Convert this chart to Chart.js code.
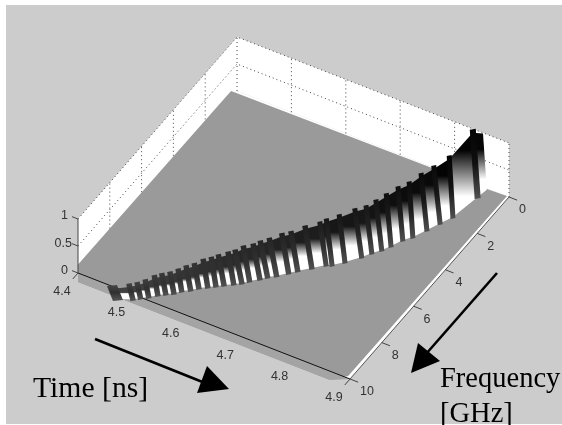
<!DOCTYPE html>
<html>
<head>
<meta charset="utf-8">
<script src="https://cdn.jsdelivr.net/npm/chart.js@4/dist/chart.umd.min.js"></script>
<style>
  body { margin: 0; background: #fff; }
  canvas { display: block; filter: blur(0.35px); }
</style>
</head>
<body>
<canvas id="myChart" width="562" height="425"></canvas>
<script>
// axis ticks
const timeTicks = [4.4, 4.5, 4.6, 4.7, 4.8, 4.9];
const freqTicks = [0, 2, 4, 6, 8, 10];
const ampTicks = [0, 0.5, 1];

// ridge: one entry per frequency step
const ridgeFreq = [10.43, 10.19, 10.02, 9.85, 9.62, 9.46, 9.29, 9.08, 8.89, 8.68, 8.5, 8.33, 8.16, 7.96, 7.79, 7.58, 7.34, 7.13, 6.94, 6.63, 6.4, 6.06, 5.71, 5.61, 5.28, 4.81, 4.48, 4.2, 3.89, 3.46, 3.17, 2.66, 2.17, 1.71, 0.5, 0.06];
const footTime = [4.486, 4.507, 4.516, 4.526, 4.536, 4.546, 4.556, 4.564, 4.575, 4.584, 4.595, 4.605, 4.615, 4.627, 4.637, 4.645, 4.657, 4.665, 4.676, 4.689, 4.699, 4.715, 4.731, 4.739, 4.753, 4.77, 4.779, 4.789, 4.797, 4.806, 4.816, 4.827, 4.837, 4.847, 4.857, 4.861];
const peakTime = [4.475, 4.499, 4.509, 4.519, 4.529, 4.538, 4.548, 4.557, 4.566, 4.575, 4.586, 4.596, 4.604, 4.616, 4.624, 4.633, 4.644, 4.651, 4.662, 4.676, 4.686, 4.702, 4.719, 4.728, 4.742, 4.757, 4.768, 4.778, 4.788, 4.797, 4.809, 4.816, 4.825, 4.84, 4.848, 4.854];
const peakAmp = [0.2, 0.25, 0.26, 0.29, 0.33, 0.35, 0.36, 0.38, 0.41, 0.42, 0.48, 0.5, 0.52, 0.55, 0.56, 0.6, 0.6, 0.61, 0.64, 0.68, 0.68, 0.73, 0.75, 0.81, 0.83, 0.84, 0.83, 0.88, 0.93, 0.95, 0.99, 1.0, 1.01, 1.1, 1.21, 1.07];

// flat part of the surface and the strip of it below the time axis
const surfaceTime = [4.392, 4.39, 4.411, 4.874, 4.894, 4.896, 4.86];
const surfaceFreq = [0.1, 9.67, 10.37, 10.36, 9.91, -0.01, 0.02];
const stripTime = [4.4, 4.411, 4.874, 4.9];
const stripFreq = [10, 10.37, 10.36, 10];

// 3d view: time/frequency/amplitude to picture position
function project(t, f, z) {
  return {
    x: 78 + 544 * (t - 4.4) + 15.9 * (10 - f),
    y: 273 + 212 * (t - 4.4) - 18.2 * (10 - f) - 54 * z,
  };
}

function polygon(points, color) {
  return {
    data: points.concat([points[0]]),
    fill: "shape",
    backgroundColor: color,
    borderWidth: 0,
    borderColor: "transparent",
    pointRadius: 0,
    tension: 0,
  };
}

function polyline(points, color, width, dash) {
  return {
    data: points,
    fill: false,
    borderColor: color,
    borderWidth: width,
    borderDash: dash || [],
    pointRadius: 0,
    tension: 0,
  };
}

function gray(level) {
  const v = Math.round(level);
  return "rgb(" + v + "," + v + "," + v + ")";
}

function topShade(amp) {
  return Math.max(4, 68 - ((amp - 0.2) / 1.01) * 72);
}

// vertical gradient for the sides of the ridge
function shade(top, foot, stops) {
  return (c) => {
    if (!c.chart.chartArea) return "#888";
    const sy = c.chart.scales.y;
    const g = c.chart.ctx.createLinearGradient(0, sy.getPixelForValue(top), 0, sy.getPixelForValue(foot));
    stops.forEach((s) => g.addColorStop(s[0], s[1]));
    return g;
  };
}

function facetStops(amp, top, foot) {
  const h = foot - top;
  const band = Math.min(0.45, (7 + 9 * amp) / h);
  const white = Math.max(band + 0.1, 0.5 + (0.25 * amp) / 1.19);
  const dark = gray(topShade(amp));
  return [[0, dark], [band, dark], [white, "#fff"], [1, "#fff"]];
}

function stripeWidth(i) {
  if (i === 0) return 10;
  if (i === ridgeFreq.length - 2) return 6;
  return i < 22 ? 5.4 : 5;
}

function ridgeDatasets() {
  const out = [];
  const foot = ridgeFreq.map((f, i) => project(footTime[i], f, 0));
  const peak = ridgeFreq.map((f, i) => project(peakTime[i], f, peakAmp[i]));
  for (let i = 0; i < ridgeFreq.length - 1; i++) {
    const top = Math.min(peak[i].y, peak[i + 1].y) + 3;
    const bottom = Math.max(foot[i].y, foot[i + 1].y);
    out.push(polygon([
      foot[i],
      foot[i + 1],
      { x: peak[i + 1].x, y: peak[i + 1].y + 3 },
      { x: peak[i].x, y: peak[i].y + 3 },
    ], shade(top, bottom, facetStops(peakAmp[i + 1], top, bottom))));
  }
  for (let i = 0; i < ridgeFreq.length - 1; i++) {
    const w = stripeWidth(i) / 2;
    const dark = gray(topShade(peakAmp[i]));
    const mid = gray(Math.min(topShade(peakAmp[i]) + 12, 48));
    out.push(polygon([
      { x: foot[i].x - w, y: foot[i].y + 2 },
      { x: foot[i].x + w, y: foot[i].y + 1 },
      { x: peak[i].x + w, y: peak[i].y - 1 },
      { x: peak[i].x - w, y: peak[i].y },
    ], shade(peak[i].y, foot[i].y, [[0, dark], [0.5, mid], [1, "#4e4e4e"]])));
  }
  return out;
}

function wallDatasets() {
  const out = [];
  out.push(polygon([project(4.4, 10, 0), project(4.4, 10, 1), project(4.4, 0, 1), project(4.4, 0, 0)], "#fff"));
  out.push(polygon([project(4.4, 0, 0), project(4.4, 0, 1), project(4.9, 0, 1), project(4.9, 0, 0)], "#fff"));
  out.push(polygon([project(4.4, 10, 0), project(4.4, 0, 0), project(4.9, 0, 0), project(4.9, 10, 0)], "#fff"));

  const dots = [1, 3];
  const ink = "#444";
  [0.5, 1].forEach((z) => {
    out.push(polyline([project(4.4, 10, z), project(4.4, 0, z), project(4.9, 0, z)], ink, 1, dots));
  });
  out.push(polyline([project(4.4, 0, 0), project(4.4, 0, 1)], ink, 1, dots));
  out.push(polyline([project(4.9, 0, 0), project(4.9, 0, 1)], ink, 1, dots));
  timeTicks.slice(1, -1).forEach((t) => {
    out.push(polyline([project(t, 0, 0), project(t, 0, 1)], ink, 1, dots));
  });
  freqTicks.slice(1, -1).forEach((f) => {
    out.push(polyline([project(4.4, f, 0), project(4.4, f, 1)], ink, 1, dots));
  });
  return out;
}

function axisDatasets() {
  const out = [];
  out.push(polyline([project(4.4, 10, 0), project(4.9, 10, 0)], "#111", 1));
  out.push(polyline([project(4.9, 10, 0), project(4.9, 0, 0)], "#555", 1));
  out.push(polyline([project(4.4, 10, 0), project(4.4, 10, 1)], "#444", 1));
  ampTicks.forEach((z) => {
    out.push(polyline([project(4.4, 10, z), project(4.389, 10, z)], "#444", 1));
  });
  [4.4, 4.9].forEach((t) => {
    out.push(polyline([project(t, 10, 0), project(t, 10.33, 0)], "#444", 1));
  });
  freqTicks.forEach((f) => {
    out.push(polyline([project(4.9, f, 0), project(4.915, f, 0)], "#444", 1));
  });
  return out;
}

// hand drawn arrows on top of the figure
function arrowDatasets() {
  return [
    polyline([{ x: 95, y: 339 }, { x: 205, y: 383 }], "#000", 2.6),
    polygon([{ x: 229, y: 389 }, { x: 207, y: 366 }, { x: 197, y: 393 }], "#000"),
    polyline([{ x: 497, y: 273 }, { x: 426, y: 354 }], "#000", 2.6),
    polygon([{ x: 411, y: 373 }, { x: 418, y: 343 }, { x: 440, y: 361 }], "#000"),
  ];
}

const panelBackground = {
  id: "panelBackground",
  beforeDraw(chart) {
    const ctx = chart.ctx;
    ctx.save();
    ctx.fillStyle = "#cccccc";
    ctx.fillRect(6, 5, 556, 419);
    ctx.restore();
  },
};

const textLabels = {
  id: "textLabels",
  afterDraw(chart) {
    const ctx = chart.ctx;
    const sx = chart.scales.x;
    const sy = chart.scales.y;
    const put = (text, p, dx, dy) => ctx.fillText(text, sx.getPixelForValue(p.x) + dx, sy.getPixelForValue(p.y) + dy);
    ctx.save();
    ctx.fillStyle = "#333";
    ctx.font = "12.5px 'Liberation Sans'";
    ctx.textBaseline = "middle";
    ctx.textAlign = "right";
    ampTicks.forEach((z) => put(String(z), project(4.4, 10, z), z === 0.5 ? -6 : -10, z === 1 ? -3 : -2));
    ctx.textAlign = "center";
    timeTicks.forEach((t) => put(t.toFixed(1), project(t, 10, 0), -16, 18.5));
    ctx.textAlign = "left";
    freqTicks.forEach((f) => put(String(f), project(4.9, f, 0), 10, 13));
    ctx.fillStyle = "#000";
    ctx.textBaseline = "alphabetic";
    ctx.font = "29.7px 'Liberation Serif'";
    ctx.fillText("Time [ns]", 33, 397);
    ctx.font = "28.5px 'Liberation Serif'";
    ctx.fillText("Frequency", 440, 387);
    ctx.fillText("[GHz]", 440, 422);
    ctx.restore();
  },
};

function initChart() {
  const ctx = document.getElementById("myChart").getContext("2d");
  const surface = surfaceTime.map((t, i) => project(t, surfaceFreq[i], 0));
  const strip = stripTime.map((t, i) => project(t, stripFreq[i], 0));
  // first dataset is painted last, so build bottom-up and flip
  const datasets = [].concat(
    wallDatasets(),
    [polygon(surface, "#9a9a9a"), polygon(strip, "#a4a4a4")],
    axisDatasets(),
    ridgeDatasets(),
    arrowDatasets()
  ).reverse();
  window.chart = new Chart(ctx, {
    type: "line",
    data: { datasets: datasets },
    options: {
      responsive: false,
      animation: false,
      parsing: false,
      normalized: false,
      layout: { padding: 0 },
      plugins: { legend: { display: false }, tooltip: { enabled: false } },
      scales: {
        x: { type: "linear", min: 0, max: 562, display: false },
        y: { type: "linear", min: 0, max: 425, reverse: true, display: false },
      },
    },
    plugins: [panelBackground, textLabels],
  });
}

initChart();
</script>
</body>
</html>
